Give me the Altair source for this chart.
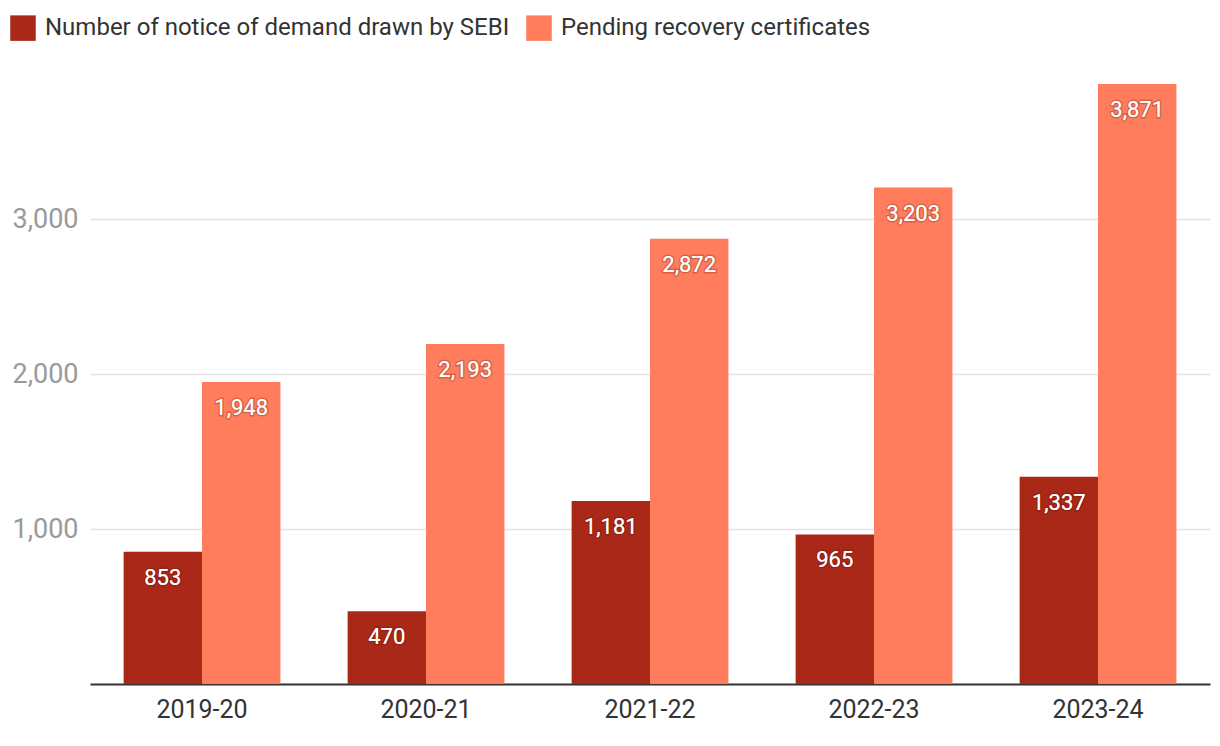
import altair as alt
import pandas as pd

years = ["2019-20", "2020-21", "2021-22", "2022-23", "2023-24"]
notices = [853, 470, 1181, 965, 1337]
pending = [1948, 2193, 2872, 3203, 3871]
series = ["Number of notice of demand drawn by SEBI", "Pending recovery certificates"]
colors = ["#AA2818", "#FF7D5C"]

rows = []
for y, a, b in zip(years, notices, pending):
    rows.append({"year": y, "series": series[0], "value": a, "order": 0})
    rows.append({"year": y, "series": series[1], "value": b, "order": 1})
df = pd.DataFrame(rows)

FONT = "Roboto"

x = alt.X("year:N", sort=years, title=None,
          scale=alt.Scale(paddingInner=0.3, paddingOuter=0.15),
          axis=alt.Axis(labelAngle=0, labelFontSize=25, labelColor="#333333", labelFont=FONT,
                        ticks=False, domainColor="#333333", domainWidth=2, labelPadding=13))
xo = alt.XOffset("series:N", sort=series)
y = alt.Y("value:Q", title=None,
          scale=alt.Scale(domain=[0, 4000], nice=False),
          axis=alt.Axis(values=[1000, 2000, 3000], format=",d", labelFontSize=27,
                        labelColor="#9a9a9a", labelFont=FONT, domain=False, ticks=False,
                        gridColor="#e3e3e3", gridWidth=1.5, labelPadding=12))

bars = alt.Chart(df).mark_bar().encode(
    x=x, xOffset=xo, y=y,
    color=alt.Color("series:N", sort=series,
                    scale=alt.Scale(domain=series, range=colors),
                    legend=alt.Legend(title=None, orient="none", legendX=-80, legendY=-49,
                                      direction="horizontal", symbolType="square",
                                      symbolSize=650, symbolStrokeWidth=0, labelFontSize=24,
                                      labelFont=FONT, labelColor="#333333", columnPadding=16,
                                      labelOffset=9, labelLimit=700)),
)

halo = alt.Chart(df).mark_text(baseline="top", dy=16, fontSize=22, font=FONT,
                               stroke="#5a1008", strokeWidth=3, strokeOpacity=0.25,
                               fill="#ffffff").encode(
    x=x, xOffset=xo, y=y, text=alt.Text("value:Q", format=",d"))
labels = alt.Chart(df).mark_text(baseline="top", dy=16, fontSize=22, font=FONT,
                                 color="#ffffff").encode(
    x=x, xOffset=xo, y=y, text=alt.Text("value:Q", format=",d"))

chart = alt.layer(bars, halo, labels).properties(
    width=1120, height=620,
    autosize=alt.AutoSizeParams(type="none"),
    padding={"left": 90, "top": 64, "right": 10, "bottom": 62},
).configure(background="#ffffff").configure_view(strokeWidth=0, stroke=None)

chart.save("out.html", embed_options={"renderer": "svg", "actions": False})
